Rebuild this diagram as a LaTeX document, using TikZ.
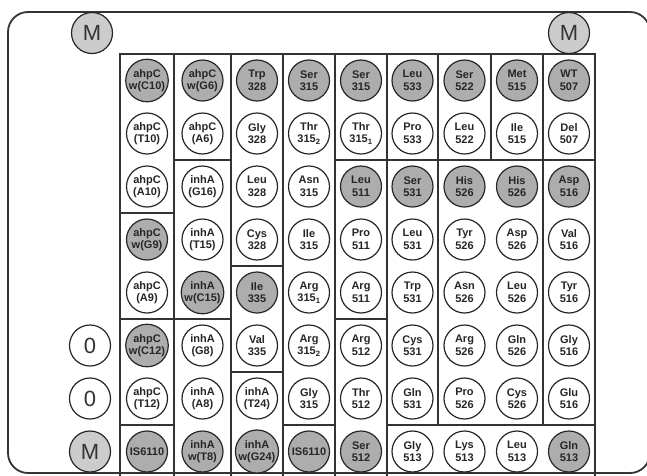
\documentclass[tikz,border=0pt]{standalone}
\usepackage{fontspec}
\setmainfont{Liberation Sans}

\begin{document}
\begin{tikzpicture}[x=1pt, y=-1pt,
    frame/.style={line width=1.8pt, draw=black!80},
    spot/.style={circle, draw=black!85, line width=1.2pt, minimum size=41pt, inner sep=0pt,
      align=center, font=\fontsize{11}{12.5}\selectfont\bfseries, text=black!85},
    wt/.style={spot, fill=white},
    hit/.style={spot, fill=black!32},
    marker/.style={circle, draw=black!85, line width=1.2pt, minimum size=41pt, inner sep=0pt,
      font=\fontsize{22}{22}\selectfont, text=black!80}]

	\useasboundingbox (0,0) rectangle (647,475);
	
	% outer frame
	\draw[frame, rounded corners=20pt] (8,12) rectangle (650,473);
	
	% table
	\draw[frame] (120,54) rectangle (595,478);
	\foreach \xv in {174,231,283,335,387}
		\draw[frame] (\xv,54) -- (\xv,478);
	\draw[frame] (438,54) -- (438,425);
	\draw[frame] (491,54) -- (491,160);
	\draw[frame] (543,54) -- (543,425);
	
	\draw[frame] (120,213) -- (174,213);
	\draw[frame] (120,319) -- (231,319);
	\draw[frame] (120,425) -- (174,425);
	\draw[frame] (174,160) -- (231,160);
	\draw[frame] (231,266) -- (283,266);
	\draw[frame] (231,372) -- (283,372);
	\draw[frame] (283,425) -- (335,425);
	\draw[frame] (335,160) -- (595,160);
	\draw[frame] (335,319) -- (387,319);
	\draw[frame] (387,425) -- (595,425);
	
	% markers
	\node[marker, fill=black!20] (mTL) at (92,33) {M};
	\node[marker, fill=black!20] (mTR) at (569,33) {M};
	\node[marker, fill=white] (zeroA) at (90,345.5) {0};
	\node[marker, fill=white] (zeroB) at (90,398.5) {0};
	\node[marker, fill=black!20] (mBL) at (90,451.5) {M};
	
	% probes, column by column
	\foreach \sty/\lab [count=\r] in {hit/{ahpC\\w(C10)}, wt/{ahpC\\(T10)}, wt/{ahpC\\(A10)},
		hit/{ahpC\\w(G9)}, wt/{ahpC\\(A9)}, hit/{ahpC\\w(C12)}, wt/{ahpC\\(T12)}, hit/IS6110}
		\node[\sty] (p1-\r) at (147,{54+53*(\r-0.5)}) {\lab};
	
	\foreach \sty/\lab [count=\r] in {hit/{ahpC\\w(G6)}, wt/{ahpC\\(A6)}, wt/{inhA\\(G16)},
		wt/{inhA\\(T15)}, hit/{inhA\\w(C15)}, wt/{inhA\\(G8)}, wt/{inhA\\(A8)}, hit/{inhA\\w(T8)}}
		\node[\sty] (p2-\r) at (202.5,{54+53*(\r-0.5)}) {\lab};
	
	\foreach \sty/\lab [count=\r] in {hit/{Trp\\328}, wt/{Gly\\328}, wt/{Leu\\328}, wt/{Cys\\328},
		hit/{Ile\\335}, wt/{Val\\335}, wt/{inhA\\(T24)}, hit/{inhA\\w(G24)}}
		\node[\sty] (p3-\r) at (257,{54+53*(\r-0.5)}) {\lab};
	
	\foreach \sty/\lab [count=\r] in {hit/{Ser\\315}, wt/{Thr\\315\textsubscript{2}}, wt/{Asn\\315},
		wt/{Ile\\315}, wt/{Arg\\315\textsubscript{1}}, wt/{Arg\\315\textsubscript{2}}, wt/{Gly\\315}, hit/IS6110}
		\node[\sty] (p4-\r) at (309,{54+53*(\r-0.5)}) {\lab};
	
	\foreach \sty/\lab [count=\r] in {hit/{Ser\\315}, wt/{Thr\\315\textsubscript{1}}, hit/{Leu\\511},
		wt/{Pro\\511}, wt/{Arg\\511}, wt/{Arg\\512}, wt/{Thr\\512}, hit/{Ser\\512}}
		\node[\sty] (p5-\r) at (361,{54+53*(\r-0.5)}) {\lab};
	
	\foreach \sty/\lab [count=\r] in {hit/{Leu\\533}, wt/{Pro\\533}, hit/{Ser\\531}, wt/{Leu\\531},
		wt/{Trp\\531}, wt/{Cys\\531}, wt/{Gln\\531}, wt/{Gly\\513}}
		\node[\sty] (p6-\r) at (412.5,{54+53*(\r-0.5)}) {\lab};
	
	\foreach \sty/\lab [count=\r] in {hit/{Ser\\522}, wt/{Leu\\522}, hit/{His\\526}, wt/{Tyr\\526},
		wt/{Asn\\526}, wt/{Arg\\526}, wt/{Pro\\526}, wt/{Lys\\513}}
		\node[\sty] (p7-\r) at (464.5,{54+53*(\r-0.5)}) {\lab};
	
	\foreach \sty/\lab [count=\r] in {hit/{Met\\515}, wt/{Ile\\515}, hit/{His\\526}, wt/{Asp\\526},
		wt/{Leu\\526}, wt/{Gln\\526}, wt/{Cys\\526}, wt/{Leu\\513}}
		\node[\sty] (p8-\r) at (517,{54+53*(\r-0.5)}) {\lab};
	
	\foreach \sty/\lab [count=\r] in {hit/{WT\\507}, wt/{Del\\507}, hit/{Asp\\516}, wt/{Val\\516},
		wt/{Tyr\\516}, wt/{Gly\\516}, wt/{Glu\\516}, hit/{Gln\\513}}
		\node[\sty] (p9-\r) at (569,{54+53*(\r-0.5)}) {\lab};
	
\end{tikzpicture}
\end{document}
